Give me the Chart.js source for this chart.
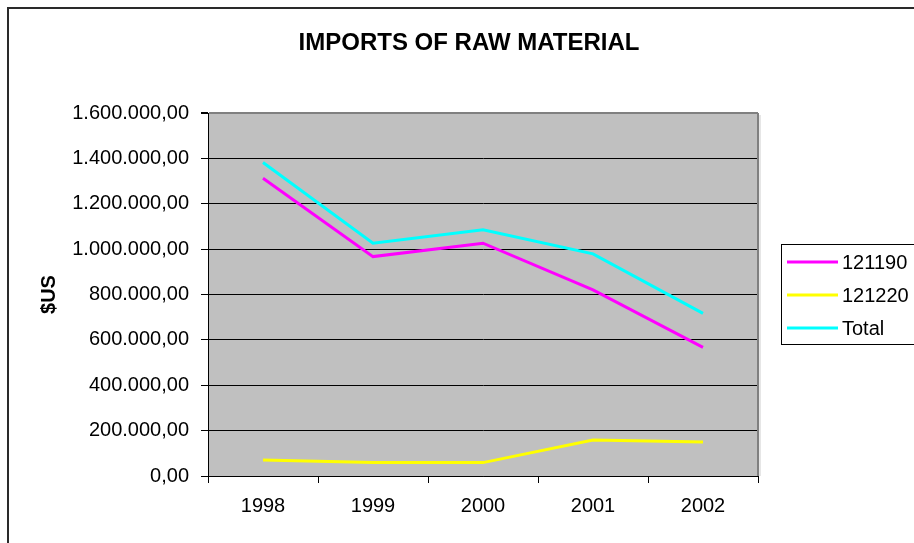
<!DOCTYPE html>
<html>
<head>
<meta charset="utf-8">
<script src="https://cdn.jsdelivr.net/npm/chart.js@4/dist/chart.umd.min.js"></script>
<style>
  html, body { margin: 0; padding: 0; background: #fff; }
  #wrap { width: 914px; height: 543px; position: relative; }
</style>
</head>
<body>
<div id="wrap"><canvas id="c" width="914" height="543"></canvas></div>
<script>
const years = ['1998', '1999', '2000', '2001', '2002'];
const imports121190 = [1312000, 967000, 1026000, 820000, 567000];
const imports121220 = [70000, 59000, 59000, 159000, 150000];
const importsTotal = [1382000, 1026000, 1085000, 979000, 717000];
const seriesNames = ['121190', '121220', 'Total'];
const seriesColors = ['#FF00FF', '#FFFF00', '#00FFFF'];
const titleText = 'IMPORTS OF RAW MATERIAL';
const yTitle = '$US';

const FONT = "'Liberation Sans', Arial, sans-serif";

function fmt(v) {
  const s = Math.round(v).toString().replace(/\B(?=(\d{3})+(?!\d))/g, '.');
  return s + ',00';
}

const frame = {
  id: 'frame',
  beforeDraw(chart) {
    const { ctx, chartArea: a } = chart;
    ctx.save();
    ctx.fillStyle = '#C0C0C0';
    ctx.fillRect(a.left, a.top, a.right - a.left, a.bottom - a.top);
    ctx.restore();
  },
  afterDraw(chart) {
    const { ctx, chartArea: a } = chart;
    ctx.save();
    // right edge of the plot area
    ctx.strokeStyle = '#808080';
    ctx.lineWidth = 2;
    ctx.beginPath();
    ctx.moveTo(a.right, a.top);
    ctx.lineTo(a.right, a.bottom);
    ctx.stroke();
    ctx.strokeStyle = '#E6E6E6';
    ctx.lineWidth = 2;
    ctx.beginPath();
    ctx.moveTo(a.right + 2, a.top + 2);
    ctx.lineTo(a.right + 2, a.bottom);
    ctx.stroke();

    // outer chart border
    ctx.strokeStyle = '#2a2a2a';
    ctx.lineWidth = 2;
    ctx.beginPath();
    ctx.moveTo(8, 1000);
    ctx.lineTo(8, 8);
    ctx.lineTo(1000, 8);
    ctx.stroke();

    // title
    ctx.fillStyle = '#000';
    ctx.font = 'bold 24px ' + FONT;
    ctx.textAlign = 'center';
    ctx.textBaseline = 'middle';
    ctx.fillText(titleText, 469, 43);

    // legend
    const lx = 781, ly = 244;
    ctx.strokeStyle = '#000';
    ctx.lineWidth = 1;
    ctx.strokeRect(lx + 0.5, ly + 0.5, 200, 100);
    ctx.font = '20px ' + FONT;
    ctx.textAlign = 'left';
    chart.data.datasets.forEach((ds, i) => {
      const y = 262 + i * 33;
      ctx.strokeStyle = ds.borderColor;
      ctx.lineWidth = 3;
      ctx.beginPath();
      ctx.moveTo(787, y);
      ctx.lineTo(838, y);
      ctx.stroke();
      ctx.fillStyle = '#000';
      ctx.fillText(ds.label, 842, y + 1);
    });
    ctx.restore();
  }
};

new Chart(document.getElementById('c'), {
  type: 'line',
  data: {
    labels: years,
    datasets: [
      { label: seriesNames[0], data: imports121190, borderColor: seriesColors[0] },
      { label: seriesNames[1], data: imports121220, borderColor: seriesColors[1] },
      { label: seriesNames[2], data: importsTotal, borderColor: seriesColors[2] }
    ].map(d => Object.assign(d, { borderWidth: 3, pointRadius: 0, tension: 0, fill: false }))
  },
  options: {
    responsive: false,
    animation: false,
    layout: { padding: { left: 33, right: 156, top: 113, bottom: 0 } },
    plugins: { legend: { display: false }, title: { display: false }, tooltip: { enabled: false } },
    scales: {
      x: {
        offset: true,
        grid: { offset: true, drawOnChartArea: false, drawTicks: true, tickLength: 7, color: '#000', lineWidth: 1 },
        border: { color: '#000', width: 1 },
        ticks: { color: '#000', font: { family: FONT, size: 20 }, padding: 11, maxRotation: 0 },
        afterFit(s) { s.height = 67; }
      },
      y: {
        min: 0,
        max: 1600000,
        ticks: {
          stepSize: 200000,
          color: '#000',
          font: { family: FONT, size: 20 },
          padding: 12,
          callback: v => fmt(v)
        },
        grid: {
          color: c => (c.tick && c.tick.value === 1600000 ? '#808080' : '#000'),
          lineWidth: c => (c.tick && c.tick.value === 1600000 ? 2 : 1),
          tickColor: '#000',
          tickLength: 7
        },
        border: { color: '#000', width: 1 },
        title: { display: true, text: yTitle, color: '#000', font: { family: FONT, size: 20, weight: 'bold' } },
        afterFit(s) { s.width = 175; }
      }
    }
  },
  plugins: [frame]
});
</script>
</body>
</html>
